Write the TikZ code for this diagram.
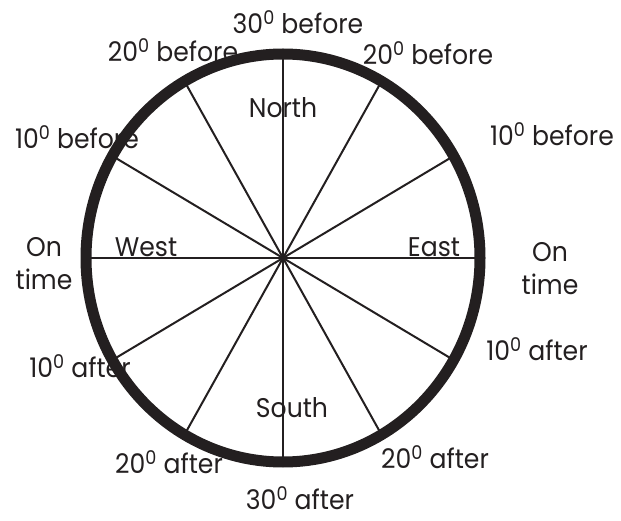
\documentclass[tikz,border=0pt]{standalone}
\usepackage{fontspec}
\setmainfont{Poppins}[FakeStretch=0.93]
\usepackage{tikz}
\usetikzlibrary{calc}

\definecolor{ink}{RGB}{35,31,32}

\begin{document}
\begin{tikzpicture}[
  x=1pt, y=-1pt,
  ring/.style={draw=ink, line width=11pt},
  spoke/.style={draw=ink, line width=2pt},
  lbl/.style={text=ink, inner sep=0pt, align=center, font=\fontsize{27}{33}\selectfont}
]
\useasboundingbox (0,0) rectangle (621,521);

\coordinate (ctr) at (283,258);

% spokes every 30 degrees
\foreach \a in {0,30,...,150}
  \draw [spoke] ($(ctr)+(\a:197pt and 204pt)$) -- ($(ctr)+(\a+180:197pt and 204pt)$);

\draw [ring] (ctr) ellipse [x radius=197pt, y radius=204pt];

% compass points
\node (north) [lbl] at (283,108) {North};
\node (south) [lbl] at (292,408) {South};
\node (west)  [lbl] at (146,247) {West};
\node (east)  [lbl] at (434,247) {East};

% times round the rim
\node (b30)  [lbl] at (298,22)  {30\textsuperscript{0} before};
\node (b20l) [lbl] at (173,50)  {20\textsuperscript{0} before};
\node (b20r) [lbl] at (428,53)  {20\textsuperscript{0} before};
\node (b10l) [lbl] at (77,137)  {10\textsuperscript{0} before};
\node (b10r) [lbl] at (552,134) {10\textsuperscript{0} before};
\node (onl)  [lbl] at (44,264)  {On\\time};
\node (onr)  [lbl] at (550,269) {On\\time};
\node (a10l) [lbl] at (80,366)  {10\textsuperscript{0} after};
\node (a10r) [lbl] at (537,349) {10\textsuperscript{0} after};
\node (a20l) [lbl] at (169,462) {20\textsuperscript{0} after};
\node (a20r) [lbl] at (435,457) {20\textsuperscript{0} after};
\node (a30)  [lbl] at (300,498) {30\textsuperscript{0} after};

\end{tikzpicture}
\end{document}
